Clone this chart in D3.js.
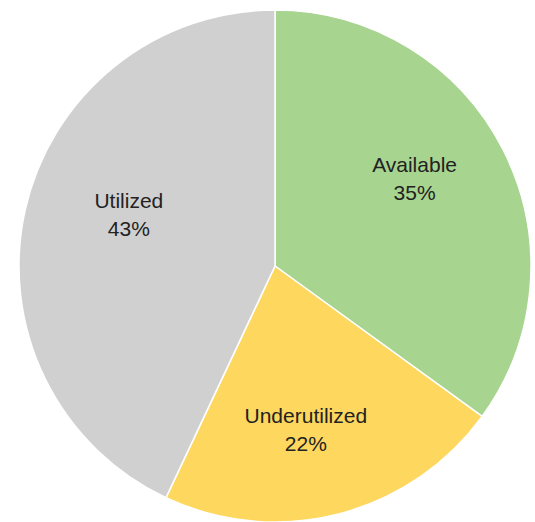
<!DOCTYPE html>
<html>
<head>
<meta charset="utf-8">
<script src="https://cdn.jsdelivr.net/npm/d3@7"></script>
<style>
  html, body { margin: 0; padding: 0; background: #ffffff; }
  svg { display: block; }
</style>
</head>
<body>
<svg id="chart" width="535" height="522"></svg>
<script>
// ---- data ----
const categories = ["Available", "Underutilized", "Utilized"];
const values = [35, 22, 43];
const valueLabels = ["35%", "22%", "43%"];
const colors = ["#a7d48f", "#fdd75e", "#d1d0d0"];

// ---- layout ----
const W = 535, H = 522;
const cx = 275, cy = 266, R = 256;
const labelR = 160;
const nudges = [[-3, -15], [-9, 9], [10, -17]];

const svg = d3.select("#chart");
const g = svg.append("g").attr("transform", `translate(${cx},${cy})`);

const data = categories.map((c, i) => ({ name: c, value: values[i], label: valueLabels[i], color: colors[i], idx: i }));

const pie = d3.pie().value(d => d.value).sort(null);
const arcs = pie(data);
const arc = d3.arc().innerRadius(0).outerRadius(R);
const labelArc = d3.arc().innerRadius(labelR).outerRadius(labelR);

g.selectAll("path.slice")
  .data(arcs)
  .join("path")
  .attr("class", "slice")
  .attr("d", arc)
  .attr("fill", d => d.data.color)
  .attr("stroke", "#ffffff")
  .attr("stroke-width", 1.5)
  .attr("stroke-linejoin", "round");

const labels = g.selectAll("text.lbl")
  .data(arcs)
  .join("text")
  .attr("class", "lbl")
  .attr("transform", d => {
    const [x, y] = labelArc.centroid(d);
    const n = nudges[d.data.idx];
    return `translate(${x + n[0]},${y + n[1]})`;
  })
  .attr("text-anchor", "middle")
  .attr("font-family", "'Liberation Sans', Arial, sans-serif")
  .attr("font-size", 21)
  .attr("fill", "#222222");

labels.append("tspan").attr("x", 0).attr("y", -6.5).text(d => d.data.name);
labels.append("tspan").attr("x", 0).attr("y", 21.5).text(d => d.data.label);
</script>
</body>
</html>
